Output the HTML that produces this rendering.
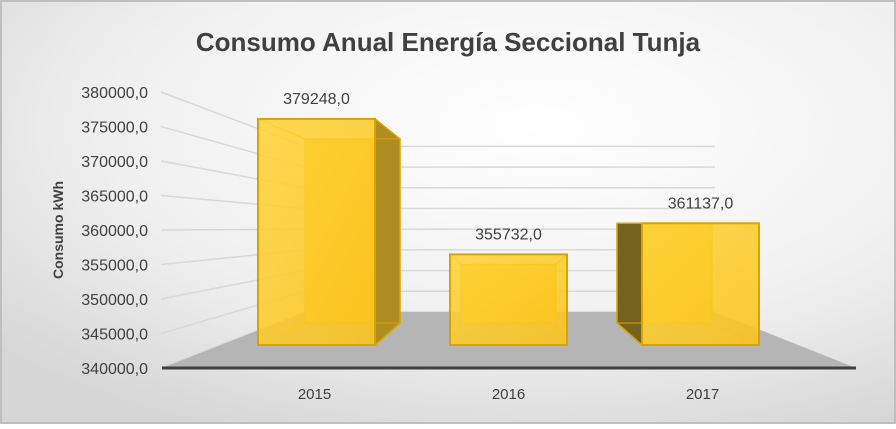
<!DOCTYPE html>
<html><head><meta charset="utf-8"><style>
html,body{margin:0;padding:0;}
body{width:896px;height:424px;overflow:hidden;font-family:"Liberation Sans",sans-serif;}
</style></head><body>
<svg id="chart" width="896" height="424" viewBox="0 0 896 424" xmlns="http://www.w3.org/2000/svg">
<defs>
<radialGradient id="bg" cx="0.6" cy="0.3" r="0.8">
<stop offset="0" stop-color="#ffffff"/><stop offset="0.6" stop-color="#f0f0f0"/><stop offset="1" stop-color="#d6d6d6"/>
</radialGradient>
<linearGradient id="front" x1="0" y1="0" x2="1" y2="1">
<stop offset="0" stop-color="#ffd43a"/><stop offset="1" stop-color="#fbc31c"/>
</linearGradient>
</defs>
<rect x="1" y="1" width="894" height="422" fill="url(#bg)" stroke="#bfbfbf" stroke-width="2"/>
<text x="448" y="51" text-anchor="middle" font-size="26" font-weight="bold" fill="#404040">Consumo Anual Energía Seccional Tunja</text>
<text transform="translate(63,230) rotate(-90)" text-anchor="middle" font-size="14" font-weight="bold" fill="#404040">Consumo kWh</text>
<g id="grid"></g>
<g id="floor"></g>
<g id="bars"></g>
<g id="labels"></g>
</svg>
<script>
const categories = ["2015","2016","2017"];
const values = [379248.0, 355732.0, 361137.0];
const tickValues = [340000,345000,350000,355000,360000,365000,370000,375000,380000];
const NS="http://www.w3.org/2000/svg";
const yMin=340000;
// axis functions
const yFrontAxis=v=>368-(v-yMin)/1000*6.9;
const yBackWall=v=>312-(v-yMin)/1000*4.14;
const yBarFront=v=>345-(v-yMin)/1000*5.76;
const xFront=i=>258+i*192;
const xBack=i=>305+i*156;
const topDepthOffset=i=>20*(2-i)/2;
const fmt=v=>v.toFixed(1).replace('.',',');
function mk(tag,attrs,parent){const e=document.createElementNS(NS,tag);for(const k in attrs)e.setAttribute(k,attrs[k]);parent.appendChild(e);return e;}
const grid=document.getElementById('grid'),floor=document.getElementById('floor'),bars=document.getElementById('bars'),labels=document.getElementById('labels');
tickValues.forEach(v=>{
  const l=mk('polyline',{points:`161,${yFrontAxis(v)} 305,${yBackWall(v)} 715,${yBackWall(v)}`,fill:'none',stroke:'#d9d9d9','stroke-width':1.5},grid);
  
  
  const t=mk('text',{x:148,y:yFrontAxis(v)+6,'text-anchor':'end','font-size':16,fill:'#404040'},labels);
  t.textContent=fmt(v);
  
  
});
const fl=mk('polygon',{points:'162,368 856,368 715,312 305,312',fill:'#b5b5b5'},floor);


const ax=mk('line',{x1:162,y1:368,x2:856,y2:368,stroke:'#404040','stroke-width':3},floor);


const W=117,BW=95;
values.forEach((v,i)=>{
  const g=mk('g',{},bars);
  
  
  const fx=xFront(i),bx=xBack(i),ft=yBarFront(v),bt=ft+topDepthOffset(i);
  const edge='#d9a400';
  mk('rect',{x:bx,y:bt,width:BW,height:323-bt,fill:'#f5c020',stroke:edge,'stroke-width':1},g);
  if(bx+BW>fx+W){
    mk('polygon',{points:`${fx+W},${ft} ${bx+BW},${bt} ${bx+BW},323 ${fx+W},345`,fill:'#b08d22',stroke:edge,'stroke-width':1.5},g);
  } else if(bx<fx){
    mk('polygon',{points:`${fx},${ft} ${bx},${bt} ${bx},323 ${fx},345`,fill:'#76621f',stroke:edge,'stroke-width':1.5},g);
  }
  mk('polyline',{points:`${fx},${ft} ${bx},${bt} ${bx+BW},${bt} ${fx+W},${ft}`,fill:'none',stroke:edge,'stroke-width':1},g);
  mk('polyline',{points:`${fx},345 ${bx},323 ${bx+BW},323 ${fx+W},345`,fill:'none',stroke:edge,'stroke-width':1},g);
  mk('rect',{x:fx,y:ft,width:W,height:345-ft,fill:'url(#front)','fill-opacity':0.88,stroke:edge,'stroke-width':2},g);
  const vl=mk('text',{x:fx+W/2,y:ft-15,'text-anchor':'middle','font-size':16,fill:'#404040'},labels);
  vl.textContent=fmt(v);
  
  
  const cl=mk('text',{x:fx+W/2+(i-1)*2,y:399,'text-anchor':'middle','font-size':15,fill:'#404040'},labels);
  cl.textContent=categories[i];
  
  
});
</script>
</body></html>
